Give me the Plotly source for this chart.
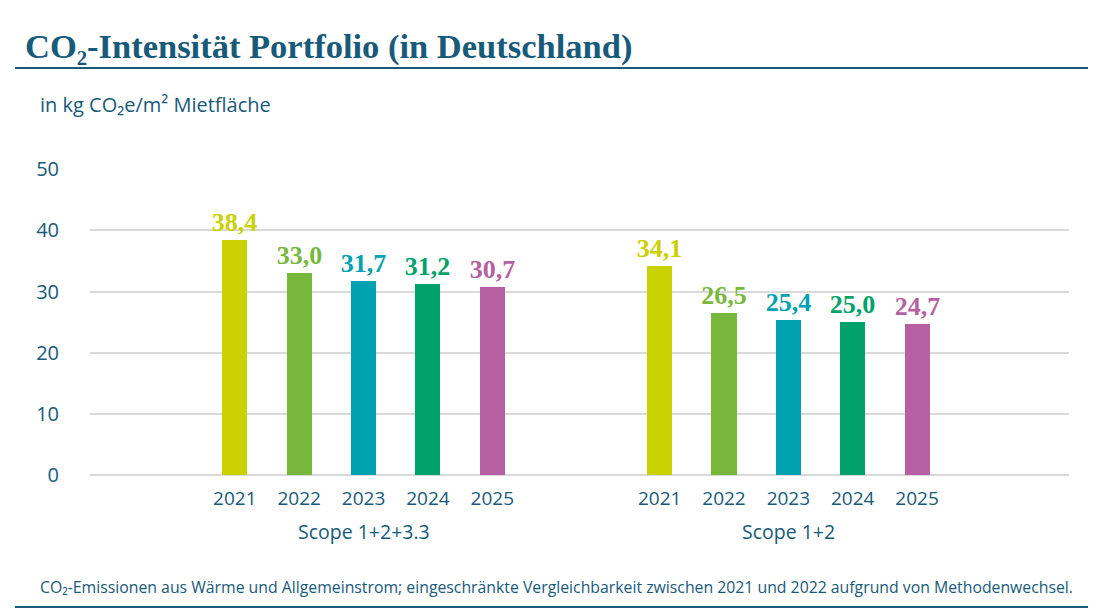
import plotly.graph_objects as go

# Daten
jahre = ["2021", "2022", "2023", "2024", "2025"]
scope_123 = [38.4, 33.0, 31.7, 31.2, 30.7]
scope_12 = [34.1, 26.5, 25.4, 25.0, 24.7]
gruppen = ["Scope 1+2+3.3", "Scope 1+2"]
farben = ["#c9d200", "#77b83c", "#00a1b0", "#00a26b", "#b65fa2"]

titel = "CO₂-Intensität Portfolio (in Deutschland)"
einheit = "in kg CO₂e/m² Mietfläche"
fussnote = ("CO₂-Emissionen aus Wärme und Allgemeinstrom; eingeschränkte Vergleichbarkeit "
            "zwischen 2021 und 2022 aufgrund von Methodenwechsel.")

BLAU = "#175a7a"
GRID = "#d9d9d9"
SANS = "Open Sans"
SERIF = "Liberation Serif"

# page has an 8px body margin -> shrink figure and shift everything
OFF = 8
W, H = 1105 - OFF, 616 - OFF
# plot area in page pixels
L, R, T, B = 90, 1069, 169, 475
GAP = 6.6


def px_x(px):
    return (px - L) / (R - L)


def px_y(py):
    return (B - py) / (B - T)


pos1 = [i for i in range(len(jahre))]
pos2 = [i + GAP for i in range(len(jahre))]

fig = go.Figure()
for pos, werte in [(pos1, scope_123), (pos2, scope_12)]:
    fig.add_trace(go.Bar(
        x=pos, y=werte,
        marker=dict(color=farben, line=dict(width=0)),
        width=0.39,
        texttemplate="%{y:.1f}",
        textposition="outside",
        constraintext="none",
        textfont=dict(family=SERIF, size=26, color=farben, weight="bold"),
        cliponaxis=False,
        showlegend=False,
        hoverinfo="skip",
    ))

annotations = [
    dict(text=einheit, x=px_x(38), y=px_y(104), xref="paper", yref="paper",
         xanchor="left", yanchor="middle", showarrow=False,
         font=dict(family=SANS, size=20, color=BLAU)),
    dict(text=fussnote, x=px_x(38), y=px_y(587), xref="paper", yref="paper",
         xanchor="left", yanchor="middle", showarrow=False,
         font=dict(family=SANS, size=15.8, color=BLAU)),
]
for g, pos in zip(gruppen, [pos1, pos2]):
    annotations.append(dict(
        text=g, x=sum(pos) / len(pos), y=px_y(531), xref="x", yref="paper",
        xanchor="center", yanchor="middle", showarrow=False,
        font=dict(family=SANS, size=19.5, color=BLAU)))

shapes = [
    dict(type="line", xref="paper", yref="paper", x0=px_x(15), x1=px_x(1088),
         y0=px_y(68), y1=px_y(68), line=dict(color=BLAU, width=2)),
    dict(type="line", xref="paper", yref="paper", x0=px_x(15), x1=px_x(1088),
         y0=px_y(607), y1=px_y(607), line=dict(color=BLAU, width=2)),
]

fig.update_layout(
    width=W, height=H,
    margin=dict(l=L - OFF, r=W - (R - OFF), t=T - OFF, b=H - (B - OFF), pad=0),
    paper_bgcolor="white", plot_bgcolor="white",
    separators=",.",
    bargap=0,
    title=dict(text="<b>" + titel + "</b>", x=(25 - OFF) / W, y=1 - (46 - OFF) / H,
               xref="container", yref="container", xanchor="left", yanchor="middle",
               font=dict(family=SERIF, size=34.5, color=BLAU)),
    xaxis=dict(range=[-2.25, 12.96], tickvals=pos1 + pos2, ticktext=jahre + jahre,
               showgrid=False, zeroline=False, showline=False,
               ticks="outside", ticklen=6, tickcolor="rgba(0,0,0,0)",
               tickfont=dict(family=SANS, size=19, color=BLAU)),
    yaxis=dict(range=[0, 50.03], tickvals=[0, 10, 20, 30, 40, 50],
               showgrid=True, gridcolor=GRID, gridwidth=1.5,
               zeroline=True, zerolinecolor=GRID, zerolinewidth=1.5, showline=False,
               ticks="outside", ticklen=26, tickcolor="rgba(0,0,0,0)",
               tickfont=dict(family=SANS, size=20, color=BLAU)),
    annotations=annotations,
    shapes=shapes,
)

fig.write_html("out.html")
